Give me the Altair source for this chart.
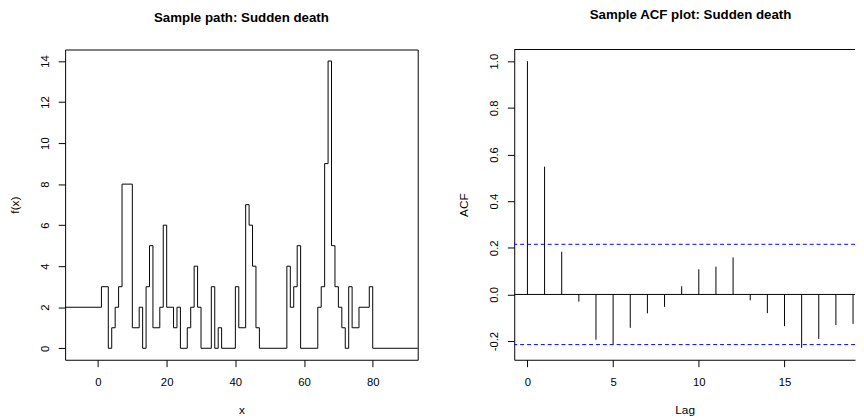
import altair as alt
import pandas as pd

FONT = "Liberation Sans"

# ---- sample path (step function): value holds from each time until the next
path_t = [-10, 1, 3, 4, 5, 6, 7, 10, 12, 13, 14, 15, 16, 18, 19, 20, 22, 23, 24, 26,
          27, 28, 29, 30, 33, 34, 35, 36, 40, 41, 43, 44, 45, 46, 47, 55, 56, 57, 58, 59,
          64, 65, 66, 67, 68, 69, 70, 71, 72, 73, 74, 76, 79, 80, 95]
path_v = [2, 3, 0, 1, 2, 3, 8, 1, 2, 0, 3, 5, 1, 2, 6, 2, 1, 2, 0, 1,
          2, 4, 2, 0, 3, 0, 1, 0, 3, 1, 7, 6, 4, 1, 0, 4, 2, 3, 5, 0,
          2, 3, 9, 14, 5, 3, 2, 1, 0, 3, 1, 2, 3, 0, 0]

# ---- sample ACF
lags = list(range(20))
acf_vals = [1.0, 0.548, 0.183, -0.031, -0.194, -0.213, -0.143, -0.081, -0.053, 0.035,
            0.108, 0.119, 0.159, -0.025, -0.080, -0.136, -0.229, -0.191, -0.131, -0.126]
ci = 0.215

x_ticks_left = [0, 20, 40, 60, 80]
y_ticks_left = [0, 2, 4, 6, 8, 10, 12, 14]
x_ticks_right = [0, 5, 10, 15]
y_ticks_right = [-0.2, 0.0, 0.2, 0.4, 0.6, 0.8, 1.0]

path_df = pd.DataFrame({"t": path_t, "v": path_v})
acf_df = pd.DataFrame({"lag": lags, "acf": acf_vals})
ci_df = pd.DataFrame({"y": [ci, -ci]})
zero_df = pd.DataFrame({"y": [0.0]})
frame_df = pd.DataFrame({"k": [0]})

W_L, W_R, H = 358, 346, 315

common = dict(labelFont=FONT, labelFontSize=11.5, labelColor="black",
              titleFont=FONT, titleFontSize=12, titleFontWeight="normal", titleColor="black",
              tickColor="black", tickSize=7, tickWidth=1, grid=False,
              labelOverlap=False, labelFlush=False,
              domainColor="black", domainWidth=1)


def xaxis(title, values, domain):
    return alt.Axis(title=title, values=values, minExtent=29, maxExtent=29,
                    labelPadding=10, titlePadding=17, domain=domain, **common)


def yaxis(title, values, domain, label_expr=None):
    kw = dict(title=title, values=values, minExtent=30, maxExtent=30,
              labelPadding=10, titlePadding=14, labelAngle=270, labelAlign="center",
              labelBaseline="alphabetic", titleAngle=270, titleBaseline="bottom",
              domain=domain, **common)
    if label_expr:
        kw["labelExpr"] = label_expr
    return alt.Axis(**kw)


left = alt.Chart(path_df).mark_line(
    interpolate="step-after", color="black", strokeWidth=1, clip=True
).encode(
    x=alt.X("t:Q", scale=alt.Scale(domain=[-9.57, 93.1], nice=False, zero=False),
            axis=xaxis("x", x_ticks_left, False)),
    y=alt.Y("v:Q", scale=alt.Scale(domain=[-0.56, 14.56], nice=False, zero=False),
            axis=yaxis("f(x)", y_ticks_left, False)),
).properties(
    width=W_L, height=H,
    view=alt.ViewBackground(stroke="black", strokeWidth=1, fill="white"),
    title=alt.TitleParams("Sample path: Sudden death", font=FONT, fontSize=13.5,
                          fontWeight="bold", color="black", anchor="middle",
                          frame="group", baseline="alphabetic", offset=14),
)

xs = alt.Scale(domain=[-0.77, -0.77 + W_R / 17.4], nice=False, zero=False)
ys = alt.Scale(domain=[-0.28, 1.05], nice=False, zero=False)

bars = alt.Chart(acf_df).mark_rule(color="black", strokeWidth=1).encode(
    x=alt.X("lag:Q", scale=xs, axis=xaxis("Lag", x_ticks_right, True)),
    y=alt.Y("acf:Q", scale=ys,
            axis=yaxis("ACF", y_ticks_right, True,
                       "replace(format(datum.value, '.1f'), '\u2212', '-')")),
    y2=alt.datum(0),
)
zero_line = alt.Chart(zero_df).mark_rule(color="black", strokeWidth=1).encode(
    y=alt.Y("y:Q", scale=ys))
ci_lines = alt.Chart(ci_df).mark_rule(color="#0000FF", strokeWidth=1,
                                      strokeDash=[4, 3]).encode(
    y=alt.Y("y:Q", scale=ys))
top_edge = alt.Chart(frame_df).mark_rule(color="black", strokeWidth=1).encode(
    x=alt.value(0), x2=alt.value(W_R), y=alt.value(0))

right = alt.layer(bars, zero_line, ci_lines, top_edge).properties(
    width=W_R, height=H,
    view=alt.ViewBackground(stroke=None, fill="white"),
    title=alt.TitleParams("Sample ACF plot: Sudden death", font=FONT, fontSize=13.5,
                          fontWeight="bold", color="black", anchor="middle",
                          frame="group", baseline="alphabetic", offset=17, dx=6),
)

chart = alt.hconcat(left, right, spacing=98, bounds="flush").properties(
    padding={"left": 0, "top": -3, "right": 0, "bottom": 0},
    background="white",
)

chart.save("out.html", embed_options={"renderer": "svg", "actions": False})
